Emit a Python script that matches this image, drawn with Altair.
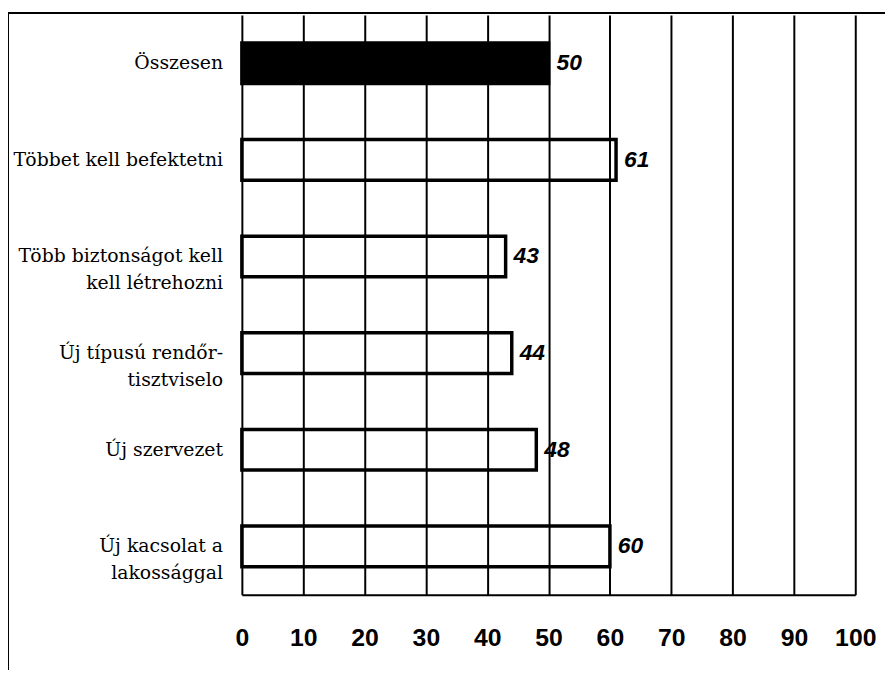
import altair as alt
import pandas as pd

categories = [
    "Összesen",
    "Többet kell befektetni",
    "Több biztonságot kell|kell létrehozni",
    "Új típusú rendőr-|tisztviselo",
    "Új szervezet",
    "Új kacsolat a|lakossággal",
]
values = [50, 61, 43, 44, 48, 60]
is_total = [True, False, False, False, False, False]

df = pd.DataFrame({"cat": categories, "val": values, "total": is_total})

W, H = 619, 585
PAD = {"left": 236, "top": 4, "right": 30, "bottom": 76}

lbl = alt.Chart(df).mark_text(
    align="right",
    baseline="middle",
    dx=-19,
    font="DejaVu Serif",
    fontSize=19,
    lineHeight=27,
    color="black",
).encode(
    x=alt.value(0),
    y=alt.Y("cat:N", sort=categories),
    text=alt.Text("lines:N"),
).transform_calculate(lines="split(datum.cat, '|')")

y_enc = alt.Y(
    "cat:N",
    sort=categories,
    scale=alt.Scale(paddingInner=0.58, paddingOuter=0.29),
    axis=None,
)
x_enc = alt.X(
    "val:Q",
    scale=alt.Scale(domain=[0, 100], nice=False),
    axis=alt.Axis(
        title=None,
        values=list(range(0, 101, 10)),
        grid=True,
        gridColor="black",
        gridWidth=2,
        gridOpacity=1,
        domain=True,
        domainColor="black",
        domainWidth=2,
        ticks=False,
        tickSize=0,
        labelFont="Liberation Sans",
        labelFontWeight="bold",
        labelFontSize=25,
        labelColor="black",
        labelPadding=31,
        labelFlush=False,
    ),
)

bars = alt.Chart(df).mark_bar(stroke="black", strokeWidth=3.5).encode(
    x=x_enc,
    y=y_enc,
    fill=alt.condition("datum.total", alt.value("black"), alt.value("transparent")),
)

labels = alt.Chart(df).mark_text(
    align="left",
    baseline="middle",
    dx=8,
    font="Liberation Sans",
    fontWeight="bold",
    fontStyle="italic",
    fontSize=23,
    color="black",
).encode(x="val:Q", y=alt.Y("cat:N", sort=categories), text="val:Q")

frame_left = alt.Chart(df).mark_rule(color="black", strokeWidth=2).encode(
    x=alt.value(-PAD["left"]), y=alt.value(-2), y2=alt.value(H + PAD["bottom"])
)
frame_top = alt.Chart(df).mark_rule(color="black", strokeWidth=2).encode(
    y=alt.value(-2), x=alt.value(-PAD["left"]), x2=alt.value(W + PAD["right"])
)

chart = (
    alt.layer(bars, labels, lbl, frame_left, frame_top)
    .properties(
        width=W,
        height=H,
        padding=PAD,
        autosize=alt.AutoSizeParams(type="none"),
        background="white",
    )
    .configure_view(stroke=None)
)

chart.save("out.html", embed_options={"renderer": "svg", "actions": False})
